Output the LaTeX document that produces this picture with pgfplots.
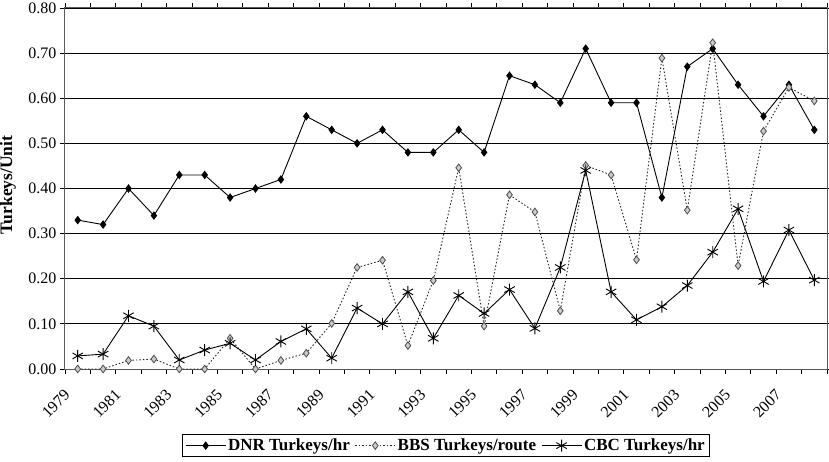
\documentclass[border=0pt]{standalone}
\usepackage{fontspec}
\setmainfont{Liberation Serif}
\usepackage{pgfplots}
\usepackage{pgfplotstable}
\pgfplotsset{compat=1.18}

% year, DNR turkeys/hr, BBS turkeys/route, CBC turkeys/hr
\pgfplotstableread{
year dnr  bbs   cbc
1979 0.33 0.000 0.029
1980 0.32 0.000 0.033
1981 0.40 0.019 0.118
1982 0.34 0.022 0.095
1983 0.43 0.000 0.020
1984 0.43 0.000 0.042
1985 0.38 0.068 0.057
1986 0.40 0.000 0.020
1987 0.42 0.019 0.061
1988 0.56 0.035 0.089
1989 0.53 0.101 0.024
1990 0.50 0.225 0.135
1991 0.53 0.241 0.100
1992 0.48 0.052 0.171
1993 0.48 0.196 0.068
1994 0.53 0.446 0.163
1995 0.48 0.095 0.123
1996 0.65 0.386 0.176
1997 0.63 0.348 0.090
1998 0.59 0.129 0.225
1999 0.71 0.451 0.440
2000 0.59 0.430 0.171
2001 0.59 0.242 0.109
2002 0.38 0.689 0.138
2003 0.67 0.352 0.185
2004 0.71 0.723 0.259
2005 0.63 0.229 0.355
2006 0.56 0.527 0.194
2007 0.63 0.624 0.308
2008 0.53 0.594 0.197
}\turkeys

\begin{document}
\begin{tikzpicture}
\begin{axis}[
  name=ax,
  scale only axis,
  width=762bp, height=361bp,
  xmin=1978.5, xmax=2008.5,
  ymin=0, ymax=0.8,
  xtick={1979,1981,...,2007},
  xticklabels={1979,1981,1983,1985,1987,1989,1991,1993,1995,1997,1999,2001,2003,2005,2007},
  minor xtick={1978.5,1979.5,...,2008.5},
  ytick={0,0.1,...,0.8},
  yticklabel style={/pgf/number format/.cd, fixed, fixed zerofill, precision=2},
  /pgf/number format/assume math mode=true,
  tick align=outside,
  major tick length=5bp,
  minor tick length=5bp,
  every major x tick/.style={draw=none},
  tick style={black, line width=0.8bp},
  tick label style={font=\fontsize{16bp}{19bp}\selectfont},
  xticklabel style={xshift=-8bp, yshift=-16bp, rotate=45, anchor=east},
  ymajorgrids,
  grid style={black, line width=0.8bp},
  axis line style={black!65, line width=1bp},
  ylabel={Turkeys/Unit},
  ylabel style={at={(axis description cs:-0.0748,0.51)}, anchor=center,
    font=\bfseries\fontsize{17.5bp}{20bp}\selectfont},
  legend columns=3,
  legend style={at={(0.5,0)}, anchor=north, yshift=-65bp, draw=black,
    line width=1bp, inner sep=2.5bp,
    font=\bfseries\fontsize{17bp}{20bp}\selectfont,
    /tikz/every even column/.append style={column sep=3bp}},
  legend image code/.code={\draw[mark repeat=2, mark phase=2, #1]
    plot coordinates {(0bp,0bp) (20bp,0bp) (40bp,0bp)};},
]
\addplot[black, line width=0.9bp, mark=diamond*, mark size=3.6bp,
  mark options={solid}] table[x=year, y=dnr] {\turkeys};
\addlegendentry{DNR Turkeys/hr}
\addplot[black!85, line width=0.9bp, dash pattern=on 1.5bp off 2bp,
  mark=diamond*, mark size=3.8bp,
  mark options={solid, draw=black!70, fill=black!20, line width=0.8bp}]
  table[x=year, y=bbs] {\turkeys};
\addlegendentry{BBS Turkeys/route}
\addplot[black, line width=0.9bp, mark=asterisk, mark size=6bp,
  mark options={solid}] table[x=year, y=cbc] {\turkeys};
\addlegendentry{CBC Turkeys/hr}
\end{axis}
\pgfresetboundingbox
\path ([xshift=-65bp, yshift=-93bp]ax.south west)
  rectangle ([xshift=2bp, yshift=8bp]ax.north east);
\end{tikzpicture}
\end{document}
